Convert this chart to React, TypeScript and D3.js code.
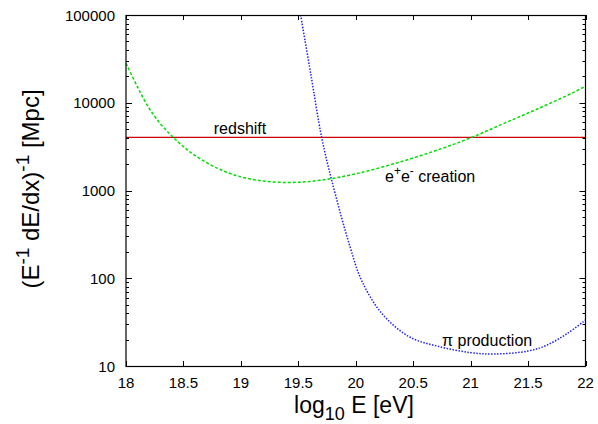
import React, { useEffect, useRef } from 'react';
import * as d3 from 'd3';

// log10 E [eV] and attenuation length [Mpc]
const pairE = [18.0, 18.1, 18.2, 18.3, 18.4, 18.5, 18.6, 18.8, 19.0, 19.2, 19.45, 19.7, 20.0, 20.4, 20.73, 21.0, 21.3, 21.6, 21.9, 22.0];
const pairL = [28180, 15140, 8710, 5750, 4170, 3160, 2510, 1780, 1430, 1280, 1236, 1312, 1550, 2140, 2950, 3980, 5890, 8710, 13200, 15500];

const pionE = [19.52, 19.61, 19.703, 19.79, 19.95, 20.05, 20.225, 20.47, 20.73, 21.0, 21.21, 21.5, 21.66, 21.84, 22.0];
const pionL = [100000, 20700, 4040, 1318, 229, 95, 40, 21.4, 16.6, 14.2, 13.7, 14.8, 17.2, 23.4, 33.4];

const redshiftL = 4040;

const xTicks = [18, 18.5, 19, 19.5, 20, 20.5, 21, 21.5, 22];
const yTicks = [10, 100, 1000, 10000, 100000];

function App() {
  const ref = useRef<SVGSVGElement>(null);

  useEffect(() => {
    const svg = d3.select(ref.current);
    svg.selectAll('*').remove();

    const left = 126, right = 585.5, top = 15, bottom = 366;
    const font = 'Liberation Sans, Arial, sans-serif';

    const x = d3.scaleLinear().domain([18, 22]).range([left, right]);
    const y = d3.scaleLog().domain([10, 100000]).range([bottom, top]);

    svg.append('defs').append('clipPath').attr('id', 'plot')
      .append('rect').attr('x', left).attr('y', top).attr('width', right - left).attr('height', bottom - top);

    // minor y ticks
    const minors: number[] = [];
    for (let d = 10; d < 100000; d *= 10) for (let m = 2; m <= 9; m++) minors.push(d * m);

    const g = svg.append('g').attr('stroke', '#000').attr('stroke-width', 1);
    minors.forEach(v => {
      const py = Math.round(y(v)) + 0.5;
      g.append('line').attr('x1', left).attr('x2', left + 3).attr('y1', py).attr('y2', py);
      g.append('line').attr('x1', right).attr('x2', right - 3).attr('y1', py).attr('y2', py);
    });
    yTicks.forEach(v => {
      const py = Math.round(y(v)) + 0.5;
      g.append('line').attr('x1', left).attr('x2', left + 6).attr('y1', py).attr('y2', py);
      g.append('line').attr('x1', right).attr('x2', right - 6).attr('y1', py).attr('y2', py);
    });
    xTicks.forEach(v => {
      const px = Math.round(x(v)) + 0.5;
      g.append('line').attr('x1', px).attr('x2', px).attr('y1', bottom).attr('y2', bottom - 5);
      g.append('line').attr('x1', px).attr('x2', px).attr('y1', top).attr('y2', top + 5);
    });

    svg.selectAll('.ylab').data(yTicks).enter().append('text')
      .attr('x', left - 11).attr('y', d => y(d) + 5.5)
      .attr('text-anchor', 'end').attr('font-family', font).attr('font-size', 15)
      .text(d => String(d));

    svg.selectAll('.xlab').data(xTicks).enter().append('text')
      .attr('x', d => x(d)).attr('y', bottom + 22)
      .attr('text-anchor', 'middle').attr('font-family', font).attr('font-size', 15)
      .text(d => String(d));

    const plot = svg.append('g').attr('clip-path', 'url(#plot)');

    plot.append('line')
      .attr('x1', left).attr('x2', right).attr('y1', y(redshiftL)).attr('y2', y(redshiftL))
      .attr('stroke', '#c80000').attr('stroke-width', 1.2);

    const line = d3.line<[number, number]>()
      .x(d => x(d[0])).y(d => y(d[1])).curve(d3.curveCatmullRom.alpha(0.5));

    plot.append('path')
      .datum(pairE.map((e, i) => [e, pairL[i]] as [number, number]))
      .attr('fill', 'none').attr('stroke', '#00e000').attr('stroke-width', 1.5)
      .attr('stroke-dasharray', '3,2')
      .attr('d', line);

    plot.append('path')
      .datum(pionE.map((e, i) => [e, pionL[i]] as [number, number]))
      .attr('fill', 'none').attr('stroke', '#2020ff').attr('stroke-width', 1.5)
      .attr('stroke-dasharray', '1.5,1.5')
      .attr('d', line);

    // frame
    svg.append('rect').attr('x', left).attr('y', top + 0.5).attr('width', right - left).attr('height', bottom - top)
      .attr('fill', 'none').attr('stroke', '#000').attr('stroke-width', 1.2);

    // curve labels
    svg.append('text').attr('x', 240).attr('y', 134).attr('text-anchor', 'middle')
      .attr('font-family', font).attr('font-size', 16).text('redshift');

    const ee = svg.append('text').attr('x', 385).attr('y', 182)
      .attr('font-family', font).attr('font-size', 16);
    ee.append('tspan').text('e');
    ee.append('tspan').attr('dy', -7).attr('font-size', 12).text('+');
    ee.append('tspan').attr('dy', 7).text('e');
    ee.append('tspan').attr('dy', -7).attr('font-size', 12).text('-');
    ee.append('tspan').attr('dy', 7).text(' creation');

    svg.append('text').attr('x', 442).attr('y', 346)
      .attr('font-family', font).attr('font-size', 16).text('π production');

    // axis titles
    const xt = svg.append('text').attr('x', 354).attr('y', 413).attr('text-anchor', 'middle')
      .attr('font-family', font).attr('font-size', 23);
    xt.append('tspan').text('log');
    xt.append('tspan').attr('dy', 7).attr('font-size', 18).text('10');
    xt.append('tspan').attr('dy', -7).text(' E [eV]');

    const yt = svg.append('text')
      .attr('transform', 'translate(39,189) rotate(-90)').attr('text-anchor', 'middle')
      .attr('font-family', font).attr('font-size', 24);
    yt.append('tspan').text('(E');
    yt.append('tspan').attr('dy', -10).attr('font-size', 19).text('-1');
    yt.append('tspan').attr('dy', 10).text(' dE/dx)');
    yt.append('tspan').attr('dy', -10).attr('font-size', 19).text('-1');
    yt.append('tspan').attr('dy', 10).text('  [Mpc]');
  }, []);

  return (
    <svg ref={ref} width="598" height="424"
      style={{ position: 'absolute', left: 0, top: 0, background: '#fff' }} />
  );
}

export default App;
